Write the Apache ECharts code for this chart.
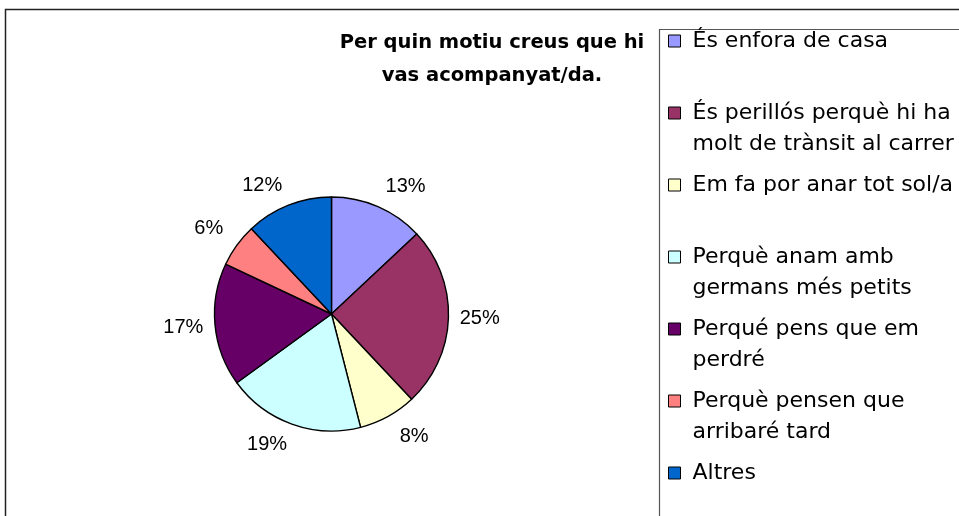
<!DOCTYPE html>
<html>
<head>
<meta charset="utf-8">
<script src="https://cdn.jsdelivr.net/npm/echarts@6/dist/echarts.min.js"></script>
<style>
  html, body { margin: 0; padding: 0; background: #fff; }
  #chart { width: 959px; height: 516px; }
</style>
</head>
<body>
<div id="chart"></div>
<script>
// ---- data ----
const titleText = 'Per quin motiu creus que hi\nvas acompanyat/da.';
const categories = [
  'És enfora de casa',
  'És perillós perquè hi ha\nmolt de trànsit al carrer',
  'Em fa por anar tot sol/a',
  'Perquè anam amb\ngermans més petits',
  'Perqué pens que em\nperdré',
  'Perquè pensen que\narribaré tard',
  'Altres'
];
const values = [13, 25, 8, 19, 17, 6, 12];
const colors = ['#9999FF', '#993366', '#FFFFCC', '#CCFFFF', '#660066', '#FF8080', '#0066CC'];

// ---- layout constants ----
const CX = 331.5, CY = 314, RADIUS = 117;
const total = values.reduce((a, b) => a + b, 0);
function midAngle(i) {
  let acc = 0;
  for (let j = 0; j < i; j++) acc += values[j];
  return (acc + values[i] / 2) / total * Math.PI * 2;
}
const clamp = t => Math.max(-1, Math.min(1, t));

const chart = echarts.init(document.getElementById('chart'), null, { renderer: 'canvas' });
chart.setOption({
  backgroundColor: '#ffffff',
  animation: false,
  title: {
    text: titleText,
    left: 487,
    top: 21.5,
    textAlign: 'center',
    textStyle: {
      fontFamily: 'DejaVu Sans',
      fontWeight: 'bold',
      fontSize: 19.5,
      lineHeight: 33,
      color: '#000'
    }
  },
  graphic: [
    { type: 'rect', shape: { x: 5.5, y: 9.5, width: 1000, height: 600 },
      style: { fill: 'none', stroke: '#222', lineWidth: 1.5 }, z: -1 },
    { type: 'rect', shape: { x: 659.5, y: 29.5, width: 400, height: 600 },
      style: { fill: 'none', stroke: '#555', lineWidth: 1.2 }, z: -1 }
  ],
  legend: {
    orient: 'vertical',
    left: 668,
    top: -5.5,
    height: 800,
    padding: 0,
    itemGap: -21,
    itemWidth: 12,
    itemHeight: 12,
    icon: 'rect',
    itemStyle: { borderColor: '#000', borderWidth: 1 },
    data: categories,
    formatter: name => ' \n' + name + (name.indexOf('\n') >= 0 ? '' : '\n '),
    textStyle: {
      fontFamily: 'DejaVu Sans',
      fontSize: 22,
      lineHeight: 31,
      color: '#000',
      padding: [0, 0, 0, 7]
    }
  },
  series: [{
    type: 'pie',
    center: [CX, CY],
    radius: [0, RADIUS],
    startAngle: 90,
    clockwise: true,
    avoidLabelOverlap: false,
    silent: true,
    color: colors,
    data: categories.map((c, i) => ({ name: c, value: values[i] })),
    itemStyle: { borderColor: '#000', borderWidth: 1.4 },
    label: {
      show: true,
      position: 'outside',
      formatter: p => p.value + '%',
      fontFamily: 'Liberation Sans',
      fontSize: 20,
      color: '#000'
    },
    labelLine: { show: false, length: 10, length2: 0 },
    labelLayout: function (p) {
      const a = midAngle(p.dataIndex);
      const dx = Math.sin(a), dy = -Math.cos(a);
      const w = p.labelRect.width, h = p.labelRect.height;
      const rr = RADIUS + 11;
      return {
        x: CX + rr * dx + w / 2 * clamp(dx * 2) + 8 * Math.sign(dx) * Math.abs(dy),
        y: CY + rr * dy + h / 2 * clamp(dy * 2),
        align: 'center',
        verticalAlign: 'middle'
      };
    },
    emphasis: { disabled: true }
  }]
});
</script>
</body>
</html>
